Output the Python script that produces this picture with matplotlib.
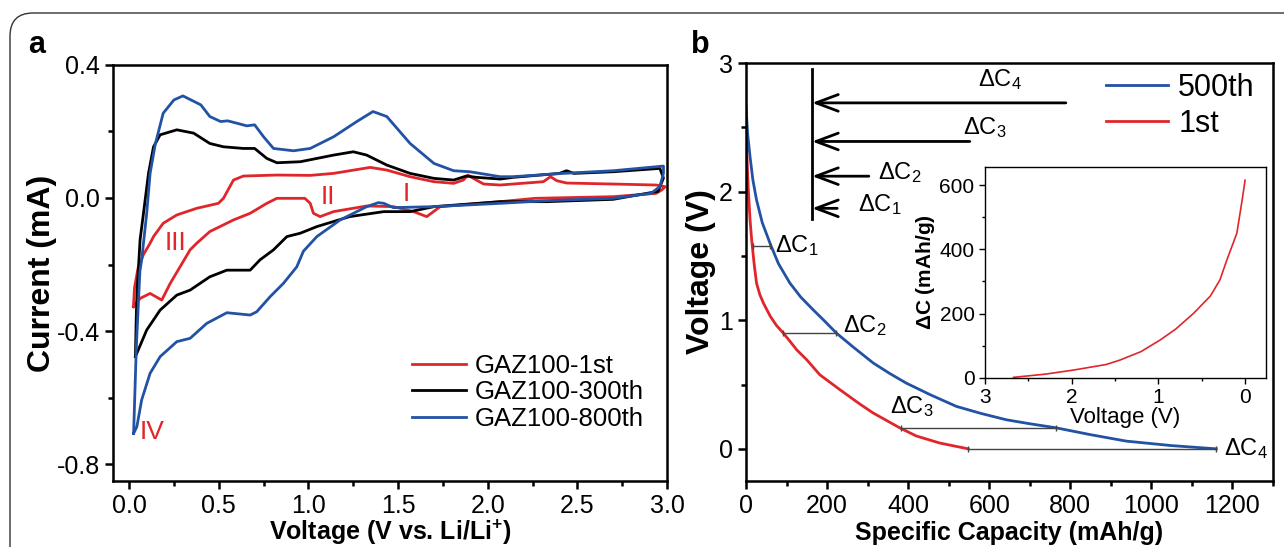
import matplotlib
matplotlib.use("Agg")
import matplotlib.pyplot as plt
from matplotlib.ticker import MultipleLocator, FormatStrFormatter
from matplotlib.patches import FancyBboxPatch

plt.rcParams['font.family'] = ['Liberation Sans', 'DejaVu Sans']
plt.rcParams['mathtext.fontset'] = 'custom'
plt.rcParams['mathtext.rm'] = 'Liberation Sans'
plt.rcParams['mathtext.bf'] = 'Liberation Sans:bold'
plt.rcParams['mathtext.it'] = 'Liberation Sans:italic'
plt.rcParams['axes.unicode_minus'] = False

RED = '#E0262A'
BLUE = '#2152A3'

# ---- panel a: CV curves (anodic branch then cathodic branch) ----
v_800_up = [0.025, 0.04, 0.06, 0.07, 0.098, 0.117, 0.145, 0.19, 0.25, 0.30, 0.40, 0.45, 0.51, 0.55, 0.60,
            0.656, 0.70, 0.75, 0.805, 0.917, 1.01, 1.14, 1.27, 1.36, 1.437, 1.567, 1.70, 1.81, 1.90,
            2.07, 2.14, 2.42, 2.70, 2.94, 2.98]
i_800_up = [-0.708, -0.45, -0.22, -0.186, -0.046, 0.074, 0.16, 0.255, 0.295, 0.307, 0.28, 0.245, 0.23,
            0.232, 0.225, 0.217, 0.22, 0.184, 0.149, 0.142, 0.149, 0.184, 0.23, 0.26, 0.245, 0.164,
            0.104, 0.082, 0.079, 0.064, 0.064, 0.074, 0.082, 0.094, 0.096]
v_800_dn = [2.98, 2.96, 2.91, 2.70, 2.33, 2.07, 1.70, 1.474, 1.42, 1.39, 1.325, 1.177, 1.047, 0.972,
            0.935, 0.86, 0.786, 0.712, 0.675, 0.545, 0.433, 0.34, 0.266, 0.173, 0.117, 0.07, 0.043, 0.025]
i_800_dn = [0.074, 0.034, 0.014, -0.001, -0.008, -0.016, -0.026, -0.029, -0.016, -0.014, -0.026,
            -0.066, -0.116, -0.16, -0.207, -0.257, -0.297, -0.342, -0.352, -0.345, -0.377, -0.422,
            -0.432, -0.477, -0.527, -0.607, -0.688, -0.708]

v_300_up = [0.035, 0.04, 0.045, 0.061, 0.08, 0.108, 0.136, 0.173, 0.266, 0.36, 0.45, 0.526, 0.637, 0.70,
            0.768, 0.824, 0.954, 1.14, 1.25, 1.325, 1.437, 1.567, 1.70, 1.81, 1.88, 1.94, 2.07, 2.14,
            2.40, 2.44, 2.48, 2.70, 2.96]
i_300_up = [-0.477, -0.35, -0.277, -0.126, -0.046, 0.074, 0.154, 0.19, 0.205, 0.195, 0.164, 0.154, 0.149,
            0.149, 0.119, 0.106, 0.109, 0.129, 0.139, 0.129, 0.099, 0.074, 0.059, 0.054, 0.066, 0.062,
            0.057, 0.062, 0.074, 0.082, 0.074, 0.079, 0.089]
v_300_dn = [2.96, 2.98, 2.95, 2.70, 2.33, 2.07, 1.70, 1.567, 1.42, 1.23, 1.047, 0.954, 0.88, 0.805, 0.73,
            0.675, 0.545, 0.45, 0.34, 0.266, 0.173, 0.098, 0.035]
i_300_dn = [0.089, 0.06, 0.02, -0.004, -0.011, -0.011, -0.026, -0.041, -0.041, -0.056, -0.086, -0.106,
            -0.116, -0.156, -0.186, -0.217, -0.217, -0.237, -0.277, -0.292, -0.337, -0.397, -0.477]

v_1_up = [0.024, 0.03, 0.05, 0.08, 0.117, 0.136, 0.19, 0.266, 0.377, 0.498, 0.526, 0.582, 0.637, 0.824,
          1.01, 1.14, 1.344, 1.437, 1.567, 1.70, 1.81, 1.864, 1.89, 1.92, 1.977, 2.07, 2.14, 2.31, 2.35,
          2.385, 2.44, 2.70, 2.94, 2.99]
i_1_up = [-0.327, -0.27, -0.21, -0.17, -0.136, -0.116, -0.076, -0.051, -0.031, -0.016, -0.001, 0.054,
          0.066, 0.069, 0.068, 0.074, 0.092, 0.084, 0.064, 0.049, 0.044, 0.054, 0.069, 0.059, 0.042,
          0.039, 0.042, 0.049, 0.064, 0.052, 0.045, 0.042, 0.039, 0.034]
v_1_dn = [2.99, 2.97, 2.94, 2.70, 2.264, 2.07, 1.735, 1.66, 1.586, 1.474, 1.325, 1.14, 1.065, 1.028,
          1.01, 0.98, 0.824, 0.768, 0.675, 0.582, 0.45, 0.377, 0.34, 0.284, 0.229, 0.182, 0.117, 0.061,
          0.024]
i_1_dn = [0.034, 0.024, 0.014, 0.004, -0.001, -0.011, -0.026, -0.056, -0.041, -0.026, -0.024, -0.041,
          -0.056, -0.046, -0.016, -0.001, -0.001, -0.016, -0.046, -0.066, -0.101, -0.136, -0.156,
          -0.207, -0.257, -0.307, -0.287, -0.302, -0.327]

cv_labels = ['GAZ100-1st', 'GAZ100-300th', 'GAZ100-800th']
peak_labels = ['I', 'II', 'III', 'IV']
peak_v = [1.548, 1.11, 0.257, 0.127]
peak_i = [0.012, 0.004, -0.136, -0.703]

# ---- panel b: discharge curves ----
cap_1st = [0, 2, 5.7, 10, 14, 20, 26, 34, 43, 60, 75, 92, 110, 125, 150, 182, 232, 280, 314, 380, 420,
           478, 548]
volt_1st = [2.48, 2.3, 2.013, 1.78, 1.625, 1.44, 1.288, 1.2, 1.133, 1.03, 0.96, 0.90, 0.83, 0.77,
            0.692, 0.576, 0.459, 0.35, 0.278, 0.162, 0.10, 0.045, 0.0]
cap_500 = [0, 4, 10, 17, 26, 40, 59, 80, 108, 135, 166, 195, 223, 265, 314, 355, 396, 455, 519, 580,
           642, 700, 764, 850, 938, 1050, 1160]
volt_500 = [2.66, 2.45, 2.27, 2.09, 1.935, 1.76, 1.60, 1.44, 1.29, 1.18, 1.08, 0.99, 0.90, 0.79, 0.667,
            0.585, 0.51, 0.42, 0.33, 0.275, 0.226, 0.195, 0.164, 0.11, 0.06, 0.025, 0.0]

dc_names = ['$\\Delta$C$_1$', '$\\Delta$C$_2$', '$\\Delta$C$_3$', '$\\Delta$C$_4$']
dc_volt = [1.58, 0.90, 0.164, 0.0]
dc_start = [17, 92, 382, 548]
dc_end = [59, 223, 764, 1160]
dc_text_x = [71, 239, 355, 1180]
dc_text_y = [1.58, 0.96, 0.33, 0.0]

# schematic arrows
arrow_y = [1.87, 2.12, 2.39, 2.69]
arrow_tail = [225, 303, 552, 789]
arrow_text_x = [330, 380, 590, 626]
arrow_text_y = [1.9, 2.15, 2.5, 2.87]
arrow_base_x = 163

# inset
inset_v = [2.67, 2.3, 1.97, 1.6, 1.44, 1.2, 0.98, 0.8, 0.59, 0.4, 0.29, 0.21, 0.095, 0.03, 0.0]
inset_dc = [2, 12, 25, 42, 56, 82, 118, 152, 202, 255, 305, 367, 450, 560, 615]

fig = plt.figure(figsize=(12.84, 5.47), dpi=100)

frame = FancyBboxPatch((10 / 1284, -0.2), 1.2, 1.2 - 13 / 547,
                       boxstyle="round,pad=0,rounding_size=0.018", transform=fig.transFigure,
                       fill=False, edgecolor='#333333', linewidth=1.0, mutation_aspect=2.35)
fig.patches.append(frame)


def style_axes(ax, lw=1.8, size=18, tlen=6):
    for s in ax.spines.values():
        s.set_linewidth(lw)
    ax.tick_params(which='both', direction='out', top=False, right=False, width=lw, labelsize=size)
    ax.tick_params(which='major', length=tlen)
    ax.tick_params(which='minor', length=tlen * 0.6)


# ---- panel a ----
ax1 = fig.add_axes([0.0880, 0.1207, 0.4315, 0.7605])
ax1.plot(v_1_up + v_1_dn, i_1_up + i_1_dn, color=RED, lw=2, label=cv_labels[0])
ax1.plot(v_300_up + v_300_dn, i_300_up + i_300_dn, color='black', lw=2, label=cv_labels[1])
ax1.plot(v_800_up + v_800_dn, i_800_up + i_800_dn, color=BLUE, lw=2, label=cv_labels[2])
for lab, x, y in zip(peak_labels, peak_v, peak_i):
    ax1.text(x, y, lab, color=RED, fontsize=19, ha='center', va='center')
ax1.set_xlim(-0.09, 3.0)
ax1.set_ylim(-0.851, 0.4)
ax1.xaxis.set_major_locator(MultipleLocator(0.5))
ax1.xaxis.set_minor_locator(MultipleLocator(0.25))
ax1.yaxis.set_major_locator(MultipleLocator(0.4))
ax1.yaxis.set_minor_locator(MultipleLocator(0.2))
ax1.xaxis.set_major_formatter(FormatStrFormatter('%.1f'))
ax1.yaxis.set_major_formatter(FormatStrFormatter('%.1f'))
style_axes(ax1)
ax1.set_xlabel('Voltage (V vs. Li/Li$^{\\mathbf{+}}$)', fontsize=18, fontweight='bold', labelpad=0)
ax1.set_ylabel('Current (mA)', fontsize=23, fontweight='bold', labelpad=0)
ax1.legend(loc='lower right', bbox_to_anchor=(1.0, 0.065), fontsize=18.5, frameon=False,
           handlelength=2.1, handletextpad=0.35, labelspacing=0.1, borderaxespad=0.5)

# ---- panel b ----
ax2 = fig.add_axes([0.5810, 0.1207, 0.4104, 0.7641])
ax2.plot(cap_500, volt_500, color=BLUE, lw=2, label='500th')
ax2.plot(cap_1st, volt_1st, color=RED, lw=2, label='1st')
for name, v, x0, x1, tx, ty in zip(dc_names, dc_volt, dc_start, dc_end, dc_text_x, dc_text_y):
    ax2.plot([x0, x1], [v, v], color='#444444', lw=1, marker='|', markersize=5, markeredgewidth=1)
    ax2.text(tx, ty, name, fontsize=17, ha='left', va='center')
ax2.plot([arrow_base_x, arrow_base_x], [1.79, 2.95], color='black', lw=2)
for name, y, tail, tx, ty in zip(dc_names, arrow_y, arrow_tail, arrow_text_x, arrow_text_y):
    ax2.annotate('', xy=(arrow_base_x, y), xytext=(tail, y),
                 arrowprops=dict(arrowstyle='->,head_length=0.8,head_width=0.3', lw=2,
                                 color='black', mutation_scale=20, shrinkA=0, shrinkB=0))
    ax2.text(tx, ty, name, fontsize=17, ha='center', va='center')
ax2.set_xlim(0, 1300)
ax2.set_ylim(-0.25, 3)
ax2.xaxis.set_major_locator(MultipleLocator(200))
ax2.xaxis.set_minor_locator(MultipleLocator(100))
ax2.yaxis.set_major_locator(MultipleLocator(1))
ax2.yaxis.set_minor_locator(MultipleLocator(0.5))
style_axes(ax2)
ax2.set_xlabel('Specific Capacity (mAh/g)', fontsize=18, fontweight='bold', labelpad=2)
ax2.set_ylabel('Voltage (V)', fontsize=23, fontweight='bold', labelpad=2)
ax2.legend(loc='upper right', bbox_to_anchor=(1.012, 1.035), fontsize=22, frameon=False,
           handlelength=2.0, handletextpad=0.35, labelspacing=0.2, borderaxespad=0.4)

# ---- inset ----
ax3 = fig.add_axes([0.7671, 0.3090, 0.2188, 0.3857])
ax3.plot(inset_v, inset_dc, color=RED, lw=1.2)
ax3.set_xlim(3.0, -0.24)
ax3.set_ylim(0, 656)
ax3.xaxis.set_major_locator(MultipleLocator(1))
ax3.xaxis.set_minor_locator(MultipleLocator(0.5))
ax3.yaxis.set_major_locator(MultipleLocator(200))
ax3.yaxis.set_minor_locator(MultipleLocator(100))
style_axes(ax3, lw=1.0, size=15, tlen=4)
ax3.set_xlabel('Voltage (V)', fontsize=16, labelpad=0)
ax3.set_ylabel('$\\mathbf{\\Delta}$C (mAh/g)', fontsize=15, fontweight='bold', labelpad=2)

fig.text(37 / 1284, 1 - 45 / 547, 'a', fontsize=22, fontweight='bold', ha='center', va='center')
fig.text(700 / 1284, 1 - 45 / 547, 'b', fontsize=22, fontweight='bold', ha='center', va='center')

fig.savefig('out.png', dpi=100)
